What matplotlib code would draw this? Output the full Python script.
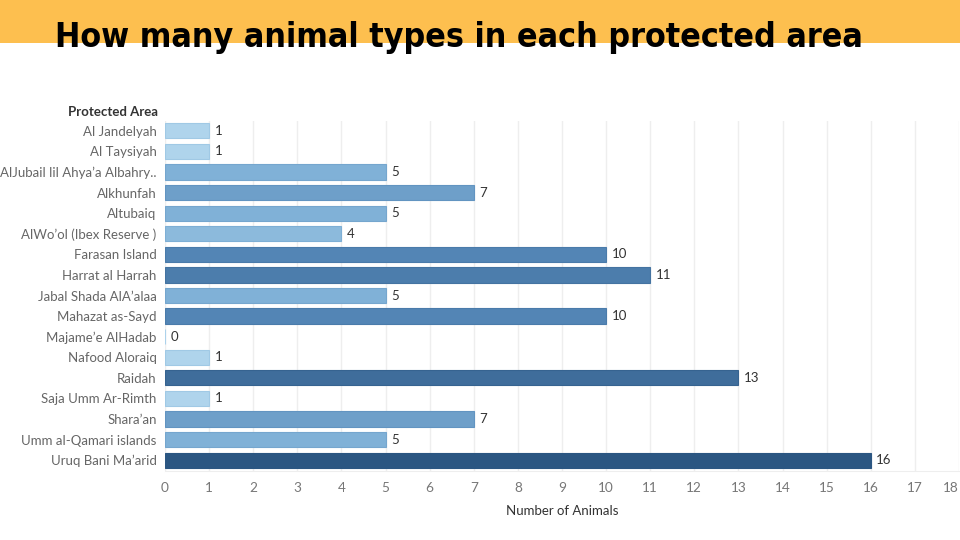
import matplotlib
matplotlib.use("Agg")
import matplotlib.pyplot as plt
import numpy as np
from matplotlib import font_manager
from matplotlib.colors import LinearSegmentedColormap
from matplotlib.patches import Rectangle

# data
areas = [
    "Al Jandelyah", "Al Taysiyah", "AlJubail lil Ahya\u2019a Albahry..", "Alkhunfah",
    "Altubaiq", "AlWo\u2019ol (Ibex Reserve )", "Farasan Island", "Harrat al Harrah",
    "Jabal Shada AlA\u2019alaa", "Mahazat as-Sayd", "Majame\u2019e AlHadab", "Nafood Aloraiq",
    "Raidah", "Saja Umm Ar-Rimth", "Shara\u2019an", "Umm al-Qamari islands", "Uruq Bani Ma\u2019arid",
]
animals = [1, 1, 5, 7, 5, 4, 10, 11, 5, 10, 0, 1, 13, 1, 7, 5, 16]
x_ticks = list(range(0, 19))

TITLE = "How many animal types in each protected area"
FONT = "Lato"


def condensed_title_font():
    # look for a narrow/condensed bold face, fall back to plain bold
    wanted = ["liberationsansnarrow-bold", "dejavusanscondensed-bold", "notosans-condensedbold",
              "notosanscondensed-bold", "robotocondensed-bold"]
    files = {f.fname.split("/")[-1].lower().rsplit(".", 1)[0]: f.fname
             for f in font_manager.fontManager.ttflist}
    for w in wanted:
        for k, path in files.items():
            if k.replace("_", "").replace(" ", "") == w:
                return font_manager.FontProperties(fname=path)
    for f in font_manager.fontManager.ttflist:
        if f.stretch in ("condensed", "semi-condensed", "extra-condensed") and f.weight in (700, "bold", 800, 900):
            return font_manager.FontProperties(fname=f.fname)
    return font_manager.FontProperties(family="DejaVu Sans", weight="bold")


cmap = LinearSegmentedColormap.from_list(
    "tab_blue",
    [(0.0, "#c9e3f5"), (1 / 16, "#afd4ec"), (5 / 16, "#80b1d7"),
     (10 / 16, "#5385b5"), (1.0, "#2b5682")],
)

fig = plt.figure(figsize=(9.6, 5.4), dpi=100)
fig.patch.set_facecolor("white")

# orange banner
fig.patches.append(Rectangle((0, 1 - 43 / 540), 1, 43 / 540, transform=fig.transFigure,
                             facecolor="#fdbf4f", edgecolor="none", zorder=0))

ax = fig.add_axes([165 / 960, 1 - 470.5 / 540, (959 - 165) / 960, (470.5 - 120.5) / 540])

y = np.arange(len(areas))
colors = [cmap(v / 16) for v in animals]
edges = [cmap(min(v / 16 + 0.08, 1.0)) for v in animals]
ax.barh(y, animals, height=0.74, color=colors, edgecolor=edges, linewidth=0.8, zorder=2)

for yi, v in zip(y, animals):
    ax.text(v + 0.12, yi, str(v), va="center", ha="left", fontsize=9.5,
            color="#333333", family=FONT, zorder=3)

ax.set_ylim(len(areas) - 0.5, -0.5)
ax.set_xlim(0, 18)
ax.set_yticks(y)
ax.set_yticklabels(areas, fontsize=9.5, color="#666666", family=FONT)
ax.set_xticks(x_ticks)
ax.set_xticklabels([str(t) for t in x_ticks], fontsize=9.8, color="#777777", family=FONT)
ax.get_xticklabels()[-1].set_horizontalalignment("right")
ax.tick_params(axis="both", length=0)
ax.tick_params(axis="y", pad=6)
ax.tick_params(axis="x", pad=8)
ax.grid(axis="x", color="#eeeeee", linewidth=1, zorder=0)
ax.set_axisbelow(True)
for s in ["top", "right", "left"]:
    ax.spines[s].set_visible(False)
ax.spines["bottom"].set_color("#eeeeee")

ax.set_xlabel("Number of Animals", fontsize=9.5, color="#333333", family=FONT, labelpad=8)

fig.text(158 / 960, 1 - 112 / 540, "Protected Area", ha="right", va="center",
         fontsize=9.5, color="#333333", family=FONT, fontweight="bold")

# title, scaled to span the reference width
tfont = condensed_title_font()
title = fig.text(55 / 960, 1 - 38 / 540, TITLE, ha="left", va="center", fontsize=30,
                 fontproperties=tfont, color="black")
title.set_fontsize(30)
fig.canvas.draw()
w = title.get_window_extent().width
title.set_fontsize(30 * 807 / w)

fig.savefig("out.png", dpi=100)
